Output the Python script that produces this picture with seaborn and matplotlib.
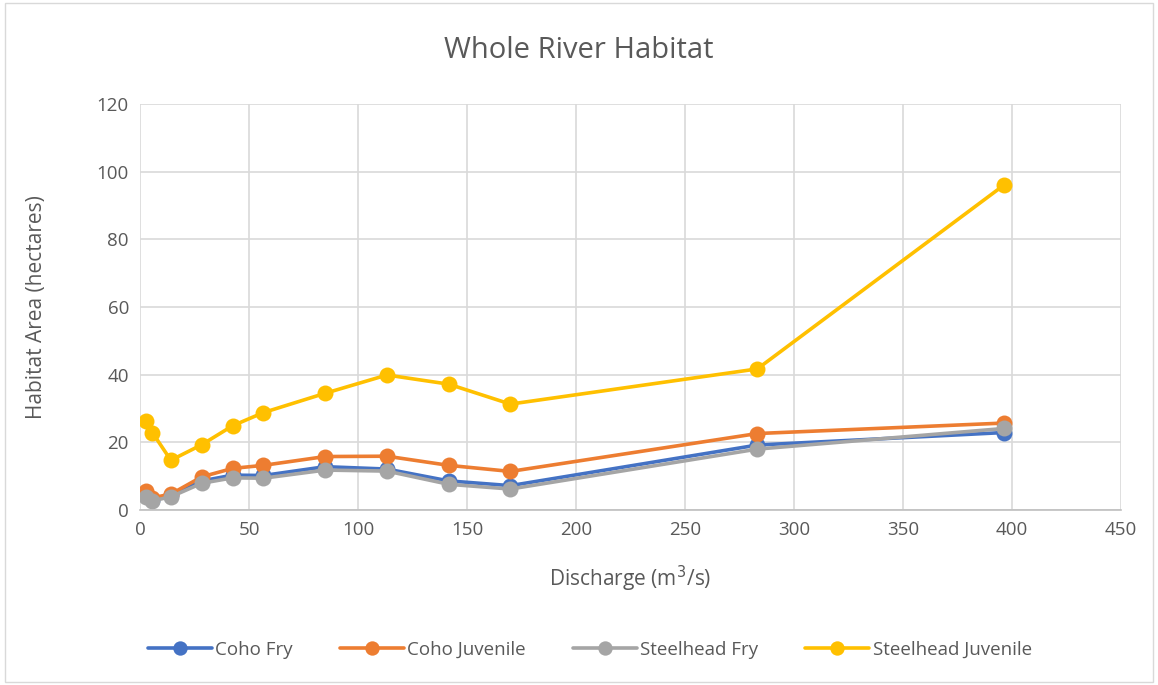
import numpy as np
import pandas as pd
import matplotlib
matplotlib.use("Agg")
import matplotlib.pyplot as plt
import seaborn as sns
from matplotlib.patches import Rectangle

discharge = [2.83, 5.66, 14.16, 28.32, 42.48, 56.63, 84.95, 113.27, 141.58, 169.90, 283.17, 396.44]
coho_fry = [4.0, 3.0, 4.3, 8.6, 10.3, 10.2, 12.8, 12.1, 8.6, 7.2, 19.2, 22.9]
coho_juv = [5.6, 3.6, 4.7, 9.8, 12.3, 13.2, 15.8, 15.9, 13.2, 11.4, 22.6, 25.7]
steel_fry = [3.8, 2.7, 3.9, 7.9, 9.5, 9.4, 11.8, 11.5, 7.6, 6.2, 18.0, 24.1]
steel_juv = [26.4, 22.9, 14.7, 19.3, 24.9, 28.8, 34.5, 39.9, 37.2, 31.3, 41.7, 96.1]
series_names = ["Coho Fry", "Coho Juvenile", "Steelhead Fry", "Steelhead Juvenile"]
colors = ["#4472C4", "#ED7D31", "#A5A5A5", "#FFC000"]

frames = []
for name, vals in zip(series_names, [coho_fry, coho_juv, steel_fry, steel_juv]):
    frames.append(pd.DataFrame({"Discharge": discharge, "Area": vals, "Series": name}))
df = pd.concat(frames, ignore_index=True)

sns.set_theme(style="white")
plt.rcParams["font.family"] = ["Open Sans", "DejaVu Sans"]
txt = "#595959"

fig = plt.figure(figsize=(11.58, 6.85), dpi=100)
ax = fig.add_axes([140/1158, 1-510/685, (1121-140)/1158, (510-104)/685])

sns.lineplot(data=df, x="Discharge", y="Area", hue="Series", hue_order=series_names,
             palette=colors, marker="o", markersize=11.5, markeredgewidth=0,
             linewidth=2.6, ax=ax, sort=False, legend=True)

ax.set_xlim(0, 450)
ax.set_ylim(0, 120)
ax.set_xticks(np.arange(0, 451, 50))
ax.set_yticks(np.arange(0, 121, 20))
ax.grid(True, color="#D9D9D9", linewidth=1.2)
ax.set_axisbelow(True)
for s in ["top", "right", "left"]:
    ax.spines[s].set_visible(False)
ax.spines["bottom"].set_color("#BFBFBF")
ax.spines["bottom"].set_linewidth(1.2)
ax.tick_params(axis="both", length=0, labelsize=13.5, colors=txt, pad=8)
ax.set_xlabel("Discharge (m$^3$/s)", fontsize=15, color=txt, labelpad=18)
ax.set_ylabel("Habitat Area (hectares)", fontsize=15, color=txt, labelpad=36)
fig.text(0.5, 1-50/685, "Whole River Habitat", ha="center", va="center", fontsize=21, color=txt)

handles, labels = ax.get_legend_handles_labels()
ax.get_legend().remove()
fig.legend(handles, labels, loc="center", bbox_to_anchor=(590/1158, 1-650/685),
           ncol=4, frameon=False, fontsize=13.5, labelcolor=txt, handlelength=3.4,
           columnspacing=2.5, handletextpad=0.2, markerscale=0.9)

fig.patches.append(Rectangle((0.004, 0.004), 0.992, 0.992, transform=fig.transFigure,
                             fill=False, edgecolor="#D9D9D9", linewidth=1))
fig.savefig("out.png", dpi=100)
